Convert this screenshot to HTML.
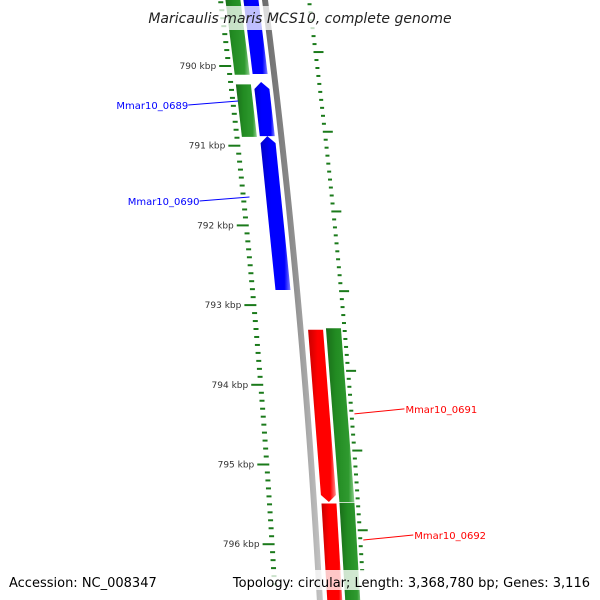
<!DOCTYPE html>
<html><head><meta charset="utf-8">
<style>
body{margin:0;background:#fff;}
svg{display:block;font-family:"DejaVu Sans","Liberation Sans",sans-serif;}
</style></head>
<body>
<svg id="map" width="600" height="600" viewBox="0 0 600 600" xmlns="http://www.w3.org/2000/svg">
<defs>
<linearGradient id="gGreen" x1="0" x2="1" y1="0" y2="0"><stop offset="0" stop-color="#1a6e1a"/><stop offset="0.35" stop-color="#228b22"/><stop offset="0.8" stop-color="#2f9a2f"/><stop offset="1" stop-color="#8fcf8f"/></linearGradient>
<linearGradient id="gBlue" x1="0" x2="1" y1="0" y2="0"><stop offset="0" stop-color="#0000c8"/><stop offset="0.35" stop-color="#0000ff"/><stop offset="0.8" stop-color="#0000ff"/><stop offset="1" stop-color="#8080ff"/></linearGradient>
<linearGradient id="gRed" x1="0" x2="1" y1="0" y2="0"><stop offset="0" stop-color="#c80000"/><stop offset="0.35" stop-color="#ff0000"/><stop offset="0.8" stop-color="#ff0000"/><stop offset="1" stop-color="#ff9090"/></linearGradient>
<linearGradient id="gGray" x1="0" x2="1" y1="0" y2="0"><stop offset="0" stop-color="#6a6a6a"/><stop offset="0.5" stop-color="#8c8c8c"/><stop offset="1" stop-color="#c8c8c8"/></linearGradient>
</defs>
<g id="layer"></g>
<rect x="150" y="6" width="300" height="24" fill="#fff" opacity="0.75"/>
<text x="300" y="23" text-anchor="middle" font-size="14" font-style="italic" fill="#222">Maricaulis maris MCS10, complete genome</text>
<rect x="0" y="570" width="600" height="20" fill="#fff" opacity="0.78"/>
<text x="9" y="587" font-size="13" fill="#000">Accession: NC_008347</text>
<text x="590" y="587" text-anchor="end" font-size="13" fill="#000">Topology: circular; Length: 3,368,780 bp; Genes: 3,116</text>
</svg>
<script>
// data (kbp)
const majorTicks = [790, 791, 792, 793, 794, 795, 796];
const tickLabels = ["790 kbp","791 kbp","792 kbp","793 kbp","794 kbp","795 kbp","796 kbp"];
const featureNames = ["g1","g2","Mmar10_0689","Mmar10_0690","b0","Mmar10_0691","Mmar10_0692","g3","g4"];
const featureStart = [789.0, 790.23, 790.20, 790.88, 789.0, 793.31, 795.49, 793.29, 795.48];
const featureEnd   = [790.11, 790.89, 790.88, 792.81, 790.10, 795.47, 797.0, 795.47, 797.0];
const featureTrack = ["outerLeft","outerLeft","innerLeft","innerLeft","innerLeft","innerRight","innerRight","outerRight","outerRight"];
const featureStrand = [0,0,-1,-1,0,1,1,0,0];
const labelledGenes = ["Mmar10_0689","Mmar10_0690","Mmar10_0691","Mmar10_0692"];

const NS="http://www.w3.org/2000/svg";
const layer=document.getElementById('layer');
// axis functions
function yOf(kbp){return 66+(kbp-790)*79.7;}
function xOf(y){return 265+0.128*y-0.000061*y*y;}
const trackOff={outerLeft:-32,innerLeft:-14,innerRight:15,outerRight:33};
const trackFill={outerLeft:"url(#gGreen)",innerLeft:"url(#gBlue)",innerRight:"url(#gRed)",outerRight:"url(#gGreen)"};
const labelColor={innerLeft:"#0000ff",innerRight:"#ff0000"};
function mk(tag,attrs){const e=document.createElementNS(NS,tag);for(const k in attrs)e.setAttribute(k,attrs[k]);return e;}

// backbone
(function(){
  const pts=[];
  for(let y=-10;y<=610;y+=10)pts.push((xOf(y)-3)+","+y);
  for(let y=610;y>=-10;y-=10)pts.push((xOf(y)+3)+","+y);
  const p=mk('polygon',{points:pts.join(' '),fill:"url(#gGray)"});
  
  
  layer.appendChild(p);
})();

// ticks
for(let k=-12;k<=75;k++){
  const kb=789+k*0.1;
  const y=yOf(kb);
  if(y<-5||y>600)continue;
  const major=Math.abs(kb-Math.round(kb))<1e-6;
  const xl=xOf(y)-44;
  const t=mk('line',{x1:major?xl-10:xl-3,y1:y,x2:xl+2,y2:y,stroke:"#1a7a1a","stroke-width":2});
  
  
  layer.appendChild(t);
  // right scale ticks (offset)
  const kr=kb-0.175;
  const yr=yOf(kr)+(kr>0?0:0);
  const xr=xOf(yr)+44;
  const rMajor=major;
  const r=mk('line',{x1:xr-2,y1:yr,x2:rMajor?xr+8:xr+2,y2:yr,stroke:"#1a7a1a","stroke-width":2});
  
  
  layer.appendChild(r);
}
majorTicks.forEach((kb,i)=>{
  const y=yOf(kb);
  const tx=mk('text',{x:xOf(y)-57,y:y+3,"text-anchor":"end","font-size":9,fill:"#333"});
  tx.textContent=tickLabels[i];
  
  
  layer.appendChild(tx);
});

// features
featureNames.forEach((nm,i)=>{
  const tr=featureTrack[i],off=trackOff[tr],w=tr.startsWith('outer')?15:15;
  let y1=yOf(featureStart[i]),y2=yOf(featureEnd[i]);
  const s=featureStrand[i];
  const L=y=>xOf(y)+off-w/2, R=y=>xOf(y)+off+w/2, C=y=>xOf(y)+off;
  let pts=[];
  if(s===-1){ // arrow tip at top
    const a=y1+7;
    pts=[[C(y1),y1],[R(a),a],[R(y2),y2],[L(y2),y2],[L(a),a]];
  }else if(s===1){
    const a=y2-7;
    pts=[[L(y1),y1],[R(y1),y1],[R(a),a],[C(y2),y2],[L(a),a]];
  }else{
    pts=[[L(y1),y1],[R(y1),y1],[R(y2),y2],[L(y2),y2]];
  }
  const p=mk('polygon',{points:pts.map(q=>q[0]+","+q[1]).join(' '),fill:trackFill[tr]});
  
  
  layer.appendChild(p);
  if(labelledGenes.includes(nm)){
    const ym=(y1+Math.min(y2,600))/2;
    const col=labelColor[tr];
    if(off<0){
      const yl=ym-12, x0=xOf(ym)-40;
      const ln=mk('line',{x1:x0,y1:ym-16+(i==2?8:0),x2:x0-50,y2:ym-12+(i==2?8:0),stroke:col,"stroke-width":1});
      
      
      layer.appendChild(ln);
      const tx=mk('text',{x:x0-50,y:ym-8+(i==2?8:0),"text-anchor":"end","font-size":10,fill:col});
      tx.textContent=nm;
      
      
      layer.appendChild(tx);
    }else{
      const yy=i==5?ym-3:539;
      const x0=xOf(yy)+47;
      const ln=mk('line',{x1:x0,y1:yy+1,x2:x0+50,y2:yy-4,stroke:col,"stroke-width":1});
      
      
      layer.appendChild(ln);
      const tx=mk('text',{x:x0+51,y:yy,"font-size":10,fill:col});
      tx.textContent=nm;
      
      
      layer.appendChild(tx);
    }
  }
});
</script>
</body></html>
